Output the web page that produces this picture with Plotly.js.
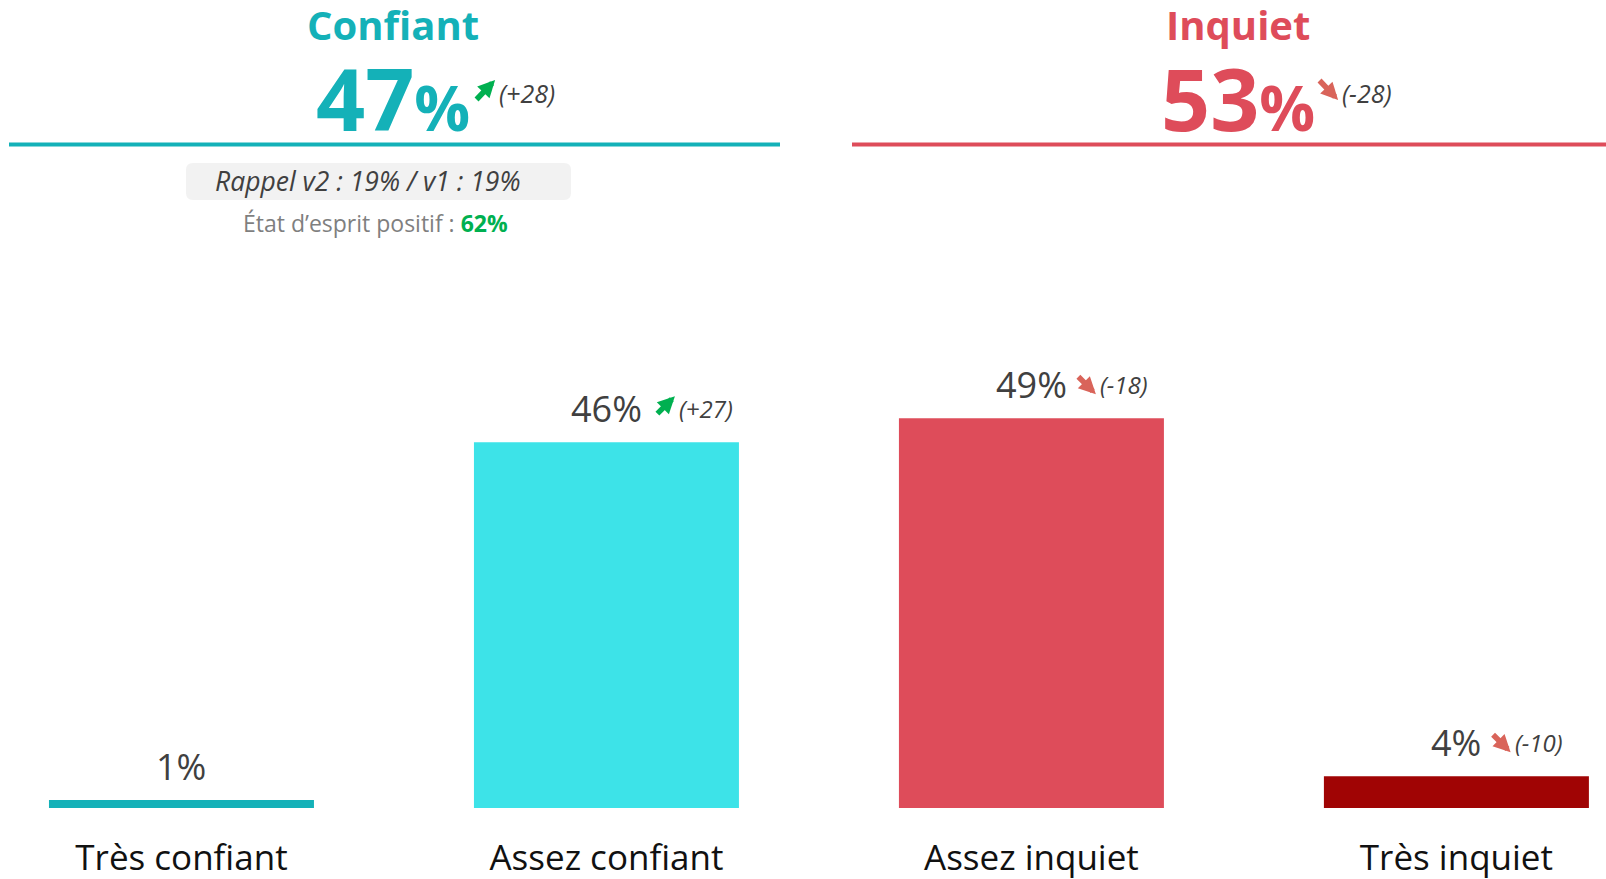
<!DOCTYPE html>
<html><head><meta charset="utf-8">
<script src="https://cdn.plot.ly/plotly-3.0.1.min.js"></script>
<style>body{margin:0;background:#fff;overflow:hidden}#chart{width:1606px;height:879px}</style>
</head><body><div id="chart"></div>
<script>
// ---- data ----
const categories = ['Très confiant', 'Assez confiant', 'Assez inquiet', 'Très inquiet'];
const values = [1, 46, 49, 4];
const deltas = [null, 27, -18, -10];
const barColors = ['#14B1B8', '#3DE3E8', '#DE4C5A', '#A00404'];
const groupNames = ['Confiant', 'Inquiet'];
const groupTotals = [47, 53];
const groupDeltas = [28, -28];
const groupColors = ['#14B1B8', '#DE4C5A'];
const rappelText = 'Rappel v2 : 19% / v1 : 19%';
const positiveLabel = 'État d’esprit positif : ';
const positiveValue = 62;

// ---- helpers ----
const W = 1606, H = 879, B = 71, PH = H - B;
const px = x => x / W;
const py = y => (PH - y) / PH;
const FONT = "'Open Sans', 'Noto Sans', sans-serif";
const cv = document.createElement('canvas').getContext('2d');
function tw(txt, size, weight) { cv.font = (weight || 'normal') + ' ' + size + "px 'Open Sans'"; return cv.measureText(txt).width; }
const UP = '#00B050', DOWN = '#D9645A';
const fmtDelta = d => '<i>(' + (d >= 0 ? '+' : '') + d + ')</i>';

// arrow annotation: tip offset (tx, ty) from anchor, in px (ty positive = up)
function arrowAnn(base, d, tx, ty, w, h) {
  const up = d >= 0;
  return Object.assign({}, base, {
    text: '', showarrow: true, arrowhead: 2, arrowsize: 0.62, arrowwidth: 5.5,
    arrowcolor: up ? UP : DOWN, standoff: 0, startstandoff: 0,
    xshift: tx, yshift: ty,
    ax: -w, ay: up ? h : -h, axref: 'pixel', ayref: 'pixel',
    font: { size: 1 }
  });
}

const trace = {
  type: 'bar', x: categories, y: values,
  marker: { color: barColors, line: { width: 0 } },
  hoverinfo: 'skip'
};

const annotations = [];
const VAL_SIZE = 36, VAL_SHIFT = 34;
categories.forEach((c, i) => {
  const label = values[i] + '%';
  const base = { x: c, y: values[i], xref: 'x', yref: 'y' };
  annotations.push(Object.assign({}, base, { text: label, showarrow: false,
    xanchor: 'center', yanchor: 'middle', yshift: VAL_SHIFT,
    font: { family: FONT, size: VAL_SIZE, color: '#404040' } }));
  if (deltas[i] !== null) {
    const half = tw(label, VAL_SIZE) / 2;
    const up = deltas[i] >= 0;
    const adj = up ? 0 : -4;
    annotations.push(arrowAnn(base, deltas[i], half + 33 + adj, VAL_SHIFT + (up ? 12 : -10), 19, 19));
    annotations.push(Object.assign({}, base, { text: fmtDelta(deltas[i]), showarrow: false,
      xanchor: 'left', yanchor: 'middle', yshift: VAL_SHIFT, xshift: half + 35 + adj,
      font: { family: FONT, size: 24, color: '#404040' } }));
  }
});

const centers = [393, 1238];
groupNames.forEach((g, i) => {
  annotations.push({ x: px(centers[i]), y: py(24), xref: 'paper', yref: 'paper', text: '<b>' + g + '</b>', showarrow: false,
    xanchor: 'center', yanchor: 'middle', font: { family: FONT, size: 40, color: groupColors[i] } });
  const num = String(groupTotals[i]);
  annotations.push({ x: px(centers[i]), y: py(97), xref: 'paper', yref: 'paper',
    text: '<b>' + num + '</b><b style="font-size:62px">%</b>', showarrow: false,
    xanchor: 'center', yanchor: 'middle', font: { family: FONT, size: 86, color: groupColors[i] } });
  const half = (tw(num, 86, 'bold') + tw('%', 62, 'bold')) / 2;
  const up = groupDeltas[i] >= 0;
  const adj = up ? -2 : -4;
  const baseH = { x: px(centers[i]), y: py(90), xref: 'paper', yref: 'paper' };
  annotations.push(arrowAnn(baseH, groupDeltas[i], half + 27 + adj, up ? 10 : -10, 20, 21));
  annotations.push({ x: px(centers[i]), y: py(93), xref: 'paper', yref: 'paper', text: fmtDelta(groupDeltas[i]), showarrow: false,
    xanchor: 'left', yanchor: 'middle', xshift: half + 29 + adj, font: { family: FONT, size: 25, color: '#404040' } });
});

annotations.push({ x: px(368), y: py(181), xref: 'paper', yref: 'paper', text: '<i>' + rappelText + '</i>', showarrow: false,
  xanchor: 'center', yanchor: 'middle', font: { family: FONT, size: 26.5, color: '#404040' } });
annotations.push({ x: px(375), y: py(223), xref: 'paper', yref: 'paper',
  text: positiveLabel + '<b style="color:#00B050">' + positiveValue + '%</b>', showarrow: false,
  xanchor: 'center', yanchor: 'middle', font: { family: FONT, size: 23, color: '#7F7F7F' } });

function roundRect(x0, y0, x1, y1, r) {
  const X = px, Y = py;
  const rx = r / W, ry = r / PH;
  return 'M' + (X(x0) + rx) + ',' + Y(y0) + ' L' + (X(x1) - rx) + ',' + Y(y0) +
    ' Q' + X(x1) + ',' + Y(y0) + ' ' + X(x1) + ',' + (Y(y0) - ry) +
    ' L' + X(x1) + ',' + (Y(y1) + ry) + ' Q' + X(x1) + ',' + Y(y1) + ' ' + (X(x1) - rx) + ',' + Y(y1) +
    ' L' + (X(x0) + rx) + ',' + Y(y1) + ' Q' + X(x0) + ',' + Y(y1) + ' ' + X(x0) + ',' + (Y(y1) + ry) +
    ' L' + X(x0) + ',' + (Y(y0) - ry) + ' Q' + X(x0) + ',' + Y(y0) + ' ' + (X(x0) + rx) + ',' + Y(y0) + ' Z';
}

const shapes = [
  { type: 'line', xref: 'paper', yref: 'paper', x0: px(9), x1: px(780), y0: py(144.5), y1: py(144.5), line: { color: groupColors[0], width: 4 } },
  { type: 'line', xref: 'paper', yref: 'paper', x0: px(852), x1: px(1606), y0: py(144.5), y1: py(144.5), line: { color: groupColors[1], width: 4 } },
  { type: 'path', xref: 'paper', yref: 'paper', path: roundRect(186, 163, 571, 200, 7), fillcolor: '#F2F2F2', line: { width: 0 }, layer: 'below' }
];

const layout = {
  width: W, height: H,
  margin: { l: 0, r: 0, t: 0, b: B, pad: 0 },
  paper_bgcolor: '#ffffff', plot_bgcolor: '#ffffff',
  showlegend: false,
  bargap: 1 - 265 / 425,
  xaxis: { type: 'category', range: [-0.427, 3.352], showgrid: false, zeroline: false, showline: false, ticks: '',
    ticklabelstandoff: 26, tickfont: { family: FONT, size: 35, color: '#111111' }, fixedrange: true },
  yaxis: { range: [0, 101.6], visible: false, fixedrange: true },
  annotations: annotations, shapes: shapes
};

Plotly.newPlot('chart', [trace], layout, { displayModeBar: false, staticPlot: true });
</script>
</body></html>
